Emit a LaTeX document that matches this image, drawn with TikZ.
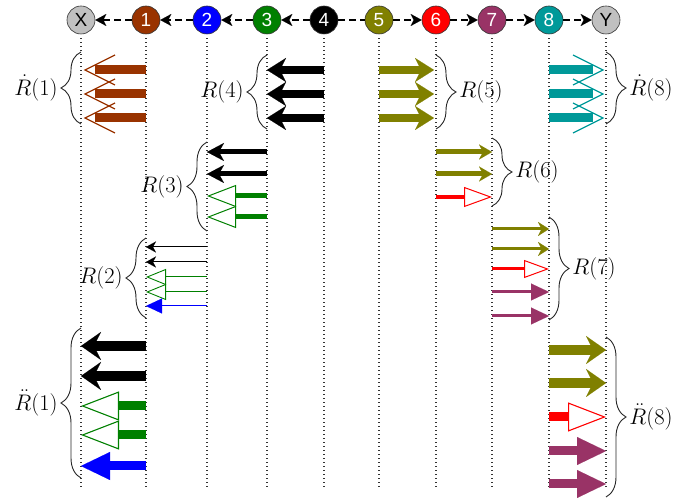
\RequirePackage{fix-cm}
\documentclass[tikz,border=0pt]{standalone}
\usepackage{fontspec}
\usetikzlibrary{arrows.meta,decorations.pathreplacing}
\newfontfamily\statefont{Liberation Sans}

\definecolor{cgray}{HTML}{C0C0C0}
\definecolor{cbrown}{HTML}{993300}
\definecolor{cblue}{HTML}{0000FF}
\definecolor{cgreen}{HTML}{008000}
\definecolor{colive}{HTML}{808000}
\definecolor{cred}{HTML}{FF0000}
\definecolor{cpurple}{HTML}{993366}
\definecolor{cteal}{HTML}{009999}

\tikzset{
  state/.style={circle, draw=black!80, line width=0.6pt, minimum size=28pt, inner sep=0pt,
    font=\statefont\fontsize{19}{19}\selectfont, text=white},
  link/.style={line width=1.4pt, dash pattern=on 7pt off 4pt},
  linktip/.style={-{Stealth[length=11pt,width=12pt,inset=3pt,line width=0.01pt]}},
  guide/.style={line width=1.1pt, dash pattern=on 1.1pt off 2.9pt, black!80},
  grpL/.style={decorate, decoration={brace, amplitude=20pt}, line width=0.9pt, black!85},
  grpR/.style={grpL},
  lbl/.style={font=\fontsize{22.5}{26}\selectfont, inner sep=1pt, text=black},
  % heavy arrows of the first rows
  heavyS/.style={line width=8.5pt, -{Stealth[length=19pt,width=24pt,inset=6pt,line width=0.01pt]}},
  % heavy arrows of the last rows
  hugeS/.style={line width=9.5pt, -{Stealth[length=20pt,width=28pt,inset=7pt,line width=0.01pt]}},
  hugeO/.style={line width=9pt, -{Triangle[length=38pt,width=29pt,fill=white,line width=1.1pt]}},
  hugeF/.style={line width=9pt, -{Triangle[length=29pt,width=28pt,line width=0.01pt]}},
  % medium arrows
  midS/.style={line width=5pt, -{Stealth[length=17pt,width=18pt,inset=5pt,line width=0.01pt]}},
  midSs/.style={line width=5pt, -{Stealth[length=13pt,width=15pt,inset=4pt,line width=0.01pt]}},
  midO/.style={line width=5pt, -{Triangle[length=29pt,width=22pt,fill=white,line width=1pt]}},
  midOs/.style={line width=4pt, -{Triangle[length=28pt,width=20pt,fill=white,line width=1pt]}},
  % light arrows
  lightS/.style={line width=3pt, -{Stealth[length=11pt,width=14pt,inset=3.5pt,line width=0.01pt]}},
  lightO/.style={line width=3pt, -{Triangle[length=25pt,width=18pt,fill=white,line width=1pt]}},
  lightF/.style={line width=3pt, -{Triangle[length=18pt,width=17pt,line width=0.01pt]}},
  % hairline arrows
  hairS/.style={line width=1pt, -{Stealth[length=10pt,width=11pt,inset=3pt,line width=0.01pt]}},
  hairO/.style={line width=1pt, -{Triangle[length=20pt,width=16pt,fill=white,line width=0.9pt]}},
  hairF/.style={line width=1pt, -{Triangle[length=16pt,width=15pt,line width=0.01pt]}},
  barb/.style={line width=1.3pt}
}

\begin{document}
\begin{tikzpicture}[x=1pt, y=-1pt]
\useasboundingbox (0,0) rectangle (694,502);

% states
\node[state, fill=cgray, text=black] (cX) at (81,20) {X};
\node[state, fill=cbrown]  (c1) at (146,20) {1};
\node[state, fill=cblue]   (c2) at (207,20) {2};
\node[state, fill=cgreen]  (c3) at (267,20) {3};
\node[state, fill=black]   (c4) at (324,20) {4};
\node[state, fill=colive]  (c5) at (379,20) {5};
\node[state, fill=cred]    (c6) at (436,20) {6};
\node[state, fill=cpurple] (c7) at (492,20) {7};
\node[state, fill=cteal]   (c8) at (549,20) {8};
\node[state, fill=cgray, text=black] (cY) at (606,20) {Y};

% links between states
\draw[link, linktip] (c1) -- (cX);
\draw[link, linktip] (c2) -- (c1);
\draw[link, linktip] (c3) -- (c2);
\draw[link, linktip] (c4) -- (c3);
\draw[link] (c4) -- (c5);
\draw[link, linktip] (c5) -- (c6);
\draw[link, linktip] (c6) -- (c7);
\draw[link, linktip] (c7) -- (c8);
\draw[link, linktip] (c8) -- (cY);

% dotted guides below every state
\foreach \n in {X,1,2,3,4,5,6,7,8,Y}
  \draw[guide] ([yshift=-4pt]c\n.south) -- (c\n |- 0,490);

% first rows: R(4), R(5)
\foreach \y in {70,94,118} {
  \draw[heavyS, black]  (c4 |- 0,\y) -- (c3 |- 0,\y);
  \draw[heavyS, colive] (c5 |- 0,\y) -- ([xshift=-2pt]c6 |- 0,\y);
  % barbed arrows at both ends
  \draw[cbrown, line width=9pt] (c1 |- 0,\y) -- (95,\y);
  \draw[cbrown, barb] (115,\y-15) -- (85,\y) -- (115,\y+15);
  \draw[cteal, line width=9pt] (c8 |- 0,\y) -- (593,\y);
  \draw[cteal, barb] (573,\y-15) -- (603,\y) -- (573,\y+15);
}

% R(3)
\draw[midS, black]  (c3 |- 0,152) -- (c2 |- 0,152);
\draw[midS, black]  (c3 |- 0,174) -- (c2 |- 0,174);
\draw[midO, cgreen] (c3 |- 0,196) -- (c2 |- 0,196);
\draw[midO, cgreen] (c3 |- 0,217) -- (c2 |- 0,217);

% R(6)
\draw[midSs, colive] (c6 |- 0,152) -- (c7 |- 0,152);
\draw[midSs, colive] (c6 |- 0,174) -- (c7 |- 0,174);
\draw[midOs, cred]   (c6 |- 0,197) -- (c7 |- 0,197);

% R(2)
\draw[hairS, black]  (c2 |- 0,247) -- (c1 |- 0,247);
\draw[hairS, black]  (c2 |- 0,262) -- (c1 |- 0,262);
\draw[hairO, cgreen] (c2 |- 0,277) -- (c1 |- 0,277);
\draw[hairO, cgreen] (c2 |- 0,292) -- (c1 |- 0,292);
\draw[hairF, cblue]  (c2 |- 0,306) -- (c1 |- 0,306);

% R(7)
\draw[lightS, colive]  (c7 |- 0,229) -- (c8 |- 0,229);
\draw[lightS, colive]  (c7 |- 0,249) -- (c8 |- 0,249);
\draw[lightO, cred]    (c7 |- 0,269) -- (c8 |- 0,269);
\draw[lightF, cpurple] (c7 |- 0,292) -- (c8 |- 0,292);
\draw[lightF, cpurple] (c7 |- 0,316) -- (c8 |- 0,316);

% last rows, left
\draw[hugeS, black]  (c1 |- 0,346) -- (cX |- 0,346);
\draw[hugeS, black]  (c1 |- 0,376) -- (cX |- 0,376);
\draw[hugeO, cgreen] (c1 |- 0,406) -- (cX |- 0,406);
\draw[hugeO, cgreen] (c1 |- 0,435) -- (cX |- 0,435);
\draw[hugeF, cblue]  (c1 |- 0,466) -- (cX |- 0,466);

% last rows, right
\draw[hugeS, colive]  (c8 |- 0,350) -- (cY |- 0,350);
\draw[hugeS, colive]  (c8 |- 0,383) -- (cY |- 0,383);
\draw[hugeO, cred]    (c8 |- 0,417) -- (cY |- 0,417);
\draw[hugeF, cpurple] (c8 |- 0,451) -- (cY |- 0,451);
\draw[hugeF, cpurple] (c8 |- 0,484) -- (cY |- 0,484);

% braces and their labels
\draw[grpL] (cX |- 0,124) -- node[lbl, midway, anchor=east, xshift=-22pt] (l1d) {$\dot{R}(1)$} (cX |- 0,52);
\draw[grpL] (c3 |- 0,129) -- node[lbl, midway, anchor=east, xshift=-22pt] (l4) {$R(4)$} (c3 |- 0,55);
\draw[grpR] (c6 |- 0,55) -- node[lbl, midway, anchor=west, xshift=22pt] (l5) {$R(5)$} (c6 |- 0,129);
\draw[grpR] (cY |- 0,52) -- node[lbl, midway, anchor=west, xshift=22pt] (l8d) {$\dot{R}(8)$} (cY |- 0,124);
\draw[grpL] (c2 |- 0,231) -- node[lbl, midway, anchor=east, xshift=-22pt] (l3) {$R(3)$} (c2 |- 0,142);
\draw[grpR] (c7 |- 0,138) -- node[lbl, midway, anchor=west, xshift=22pt] (l6) {$R(6)$} (c7 |- 0,206);
\draw[grpL] (c1 |- 0,318) -- node[lbl, midway, anchor=east, xshift=-22pt] (l2) {$R(2)$} (c1 |- 0,238);
\draw[grpR] (c8 |- 0,217) -- node[lbl, midway, anchor=west, xshift=22pt] (l7) {$R(7)$} (c8 |- 0,320);
\draw[grpL] (cX |- 0,478) -- node[lbl, midway, anchor=east, xshift=-22pt] (l1dd) {$\ddot{R}(1)$} (cX |- 0,328);
\draw[grpR] (cY |- 0,337) -- node[lbl, midway, anchor=west, xshift=22pt] (l8dd) {$\ddot{R}(8)$} (cY |- 0,497);
\end{tikzpicture}
\end{document}
